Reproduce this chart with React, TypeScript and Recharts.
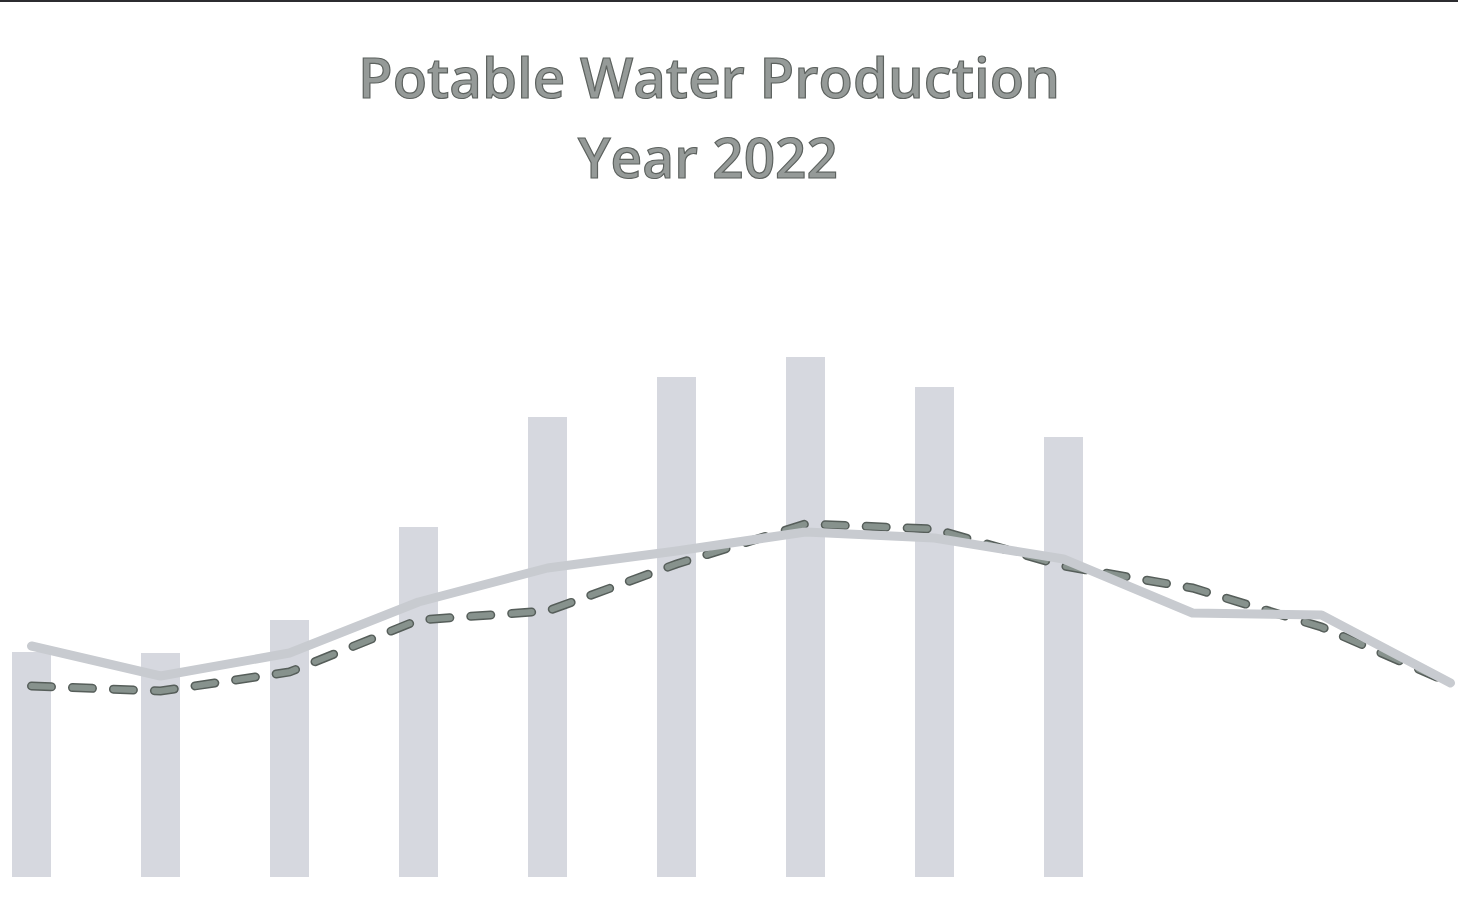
import { ComposedChart, Bar, Line, XAxis, YAxis } from 'recharts';

// monthly figures (one unit = 2px on the original)
const months = ['Jan', 'Feb', 'Mar', 'Apr', 'May', 'Jun', 'Jul', 'Aug', 'Sep', 'Oct', 'Nov', 'Dec'];
const production2022 = [112.5, 112, 128.5, 175, 230, 250, 260, 245, 220, null, null, null];
const averageSolid = [115.5, 100.5, 112, 137.5, 154.5, 163, 172.5, 169.5, 159, 132, 131, 97];
const averageDashed = [95.5, 93, 102.5, 128.5, 133, 156.5, 176.5, 174, 155.5, 144.5, 125, 97];

const data = months.map((m, i) => ({
  month: m,
  production: production2022[i],
  solid: averageSolid[i],
  dashed: averageDashed[i],
}));

const App = () => {
  return (
    <div
      style={{
        position: 'fixed',
        left: 0,
        top: 0,
        width: 1458,
        height: 898,
        overflow: 'hidden',
        background: '#fff',
      }}
    >
      <div style={{ position: 'absolute', left: 0, top: 0, width: 1458, height: 2, background: '#2c2c30' }} />

      <svg width={1458} height={220} style={{ position: 'absolute', left: 0, top: 0 }}>
        <g fontFamily="'Open Sans', sans-serif" fontWeight={600} fontSize={56} fill="#959a98" stroke="#5d625f" strokeWidth={1.2}>
          <text x={358} y={98} textLength={702} lengthAdjust="spacingAndGlyphs">
            Potable Water Production
          </text>
          <text x={578} y={178} textLength={260} lengthAdjust="spacingAndGlyphs">
            Year 2022
          </text>
        </g>
      </svg>

      <div style={{ position: 'absolute', left: -33, top: 237 }}>
        <ComposedChart width={1548} height={640} data={data} margin={{ top: 0, right: 0, bottom: 0, left: 0 }}>
          <XAxis dataKey="month" hide />
          <YAxis hide domain={[0, 320]} />
          <Bar dataKey="production" fill="#d6d8df" barSize={39} isAnimationActive={false} />
          <Line
            type="linear"
            dataKey="dashed"
            stroke="#565e5a"
            strokeWidth={9}
            strokeDasharray="20 21"
            strokeLinecap="round"
            dot={false}
            isAnimationActive={false}
          />
          <Line
            type="linear"
            dataKey="dashed"
            stroke="#87928d"
            strokeWidth={6}
            strokeDasharray="20 21"
            strokeLinecap="round"
            dot={false}
            legendType="none"
            isAnimationActive={false}
          />
          <Line
            type="linear"
            dataKey="solid"
            stroke="#c8cbd0"
            strokeWidth={9}
            strokeLinecap="round"
            strokeLinejoin="round"
            dot={false}
            isAnimationActive={false}
          />
        </ComposedChart>
      </div>
    </div>
  );
};

export default App;
